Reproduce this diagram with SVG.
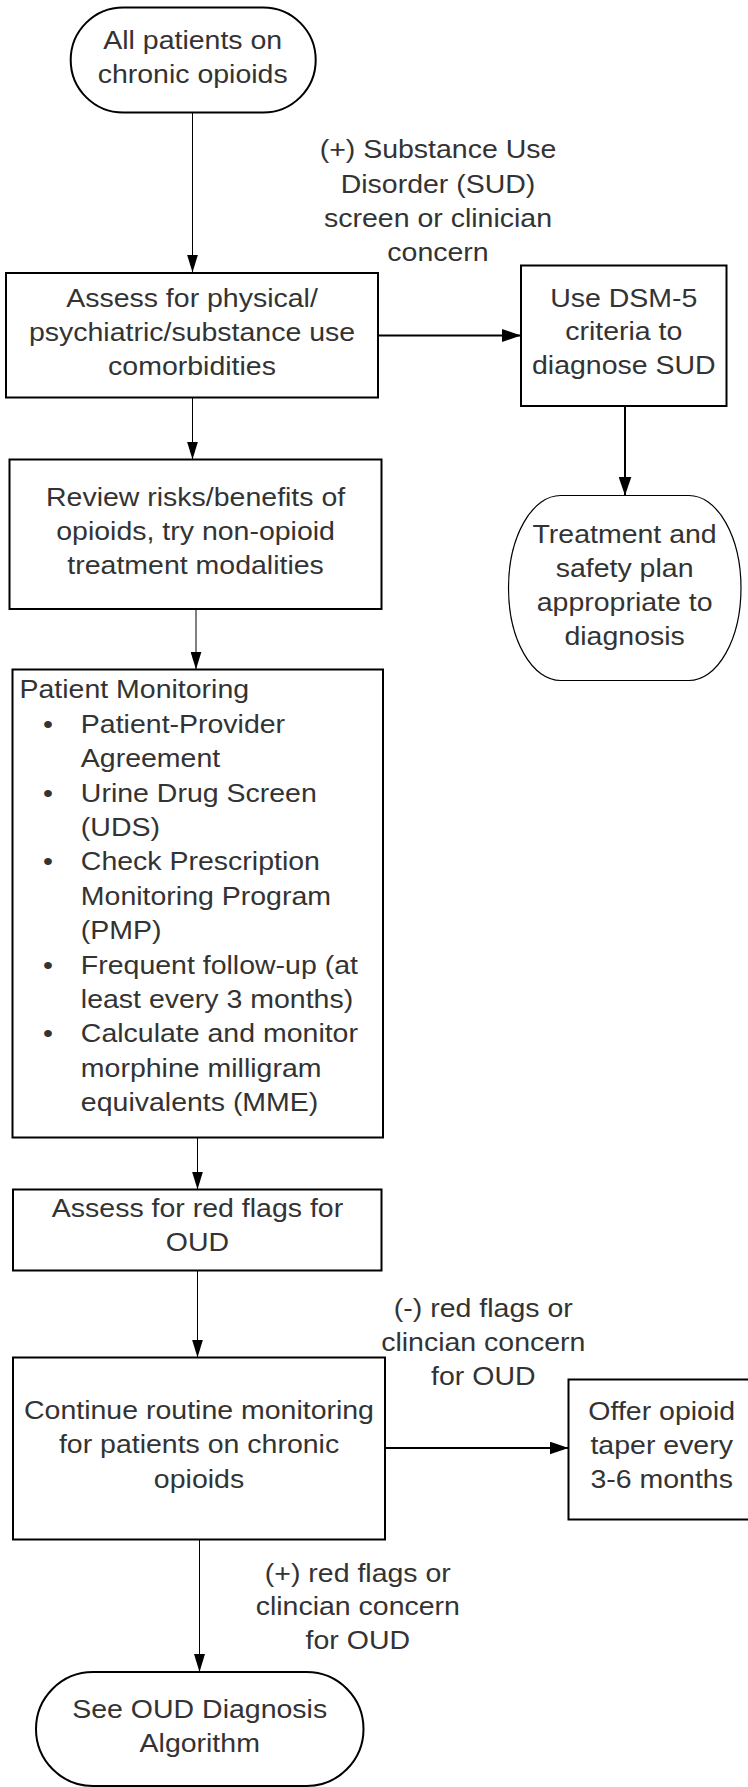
<svg xmlns="http://www.w3.org/2000/svg" width="748" height="1787" viewBox="0 0 748 1787">
<style>
.nd{fill:#fff;stroke:#000;stroke-width:2}
.thin{fill:#fff;stroke:#000;stroke-width:1.2}
.t{font-family:"Liberation Sans",Arial,sans-serif;font-size:26px;fill:#333;text-anchor:middle}
.tl{font-family:"Liberation Sans",Arial,sans-serif;font-size:26px;fill:#333;text-anchor:start}
.c1{fill:none;stroke:#000;stroke-width:1}
.c2{fill:none;stroke:#000;stroke-width:2}
</style>
<defs>
<marker id="a1" markerUnits="userSpaceOnUse" markerWidth="18" markerHeight="11" refX="18" refY="5.5" orient="auto"><path d="M0,0 L18,5.5 L0,11 z" fill="#000"/></marker>
<marker id="a2" markerUnits="userSpaceOnUse" markerWidth="19" markerHeight="13" refX="19" refY="6.5" orient="auto"><path d="M0,0 L19,6.5 L0,13 z" fill="#000"/></marker>
</defs>
<rect width="748" height="1787" fill="#fff"/>
<g id="connectors">
<line class="c1" x1="192.5" y1="113" x2="192.5" y2="272.5" marker-end="url(#a1)"/>
<line class="c2" x1="378" y1="335.5" x2="521" y2="335.5" marker-end="url(#a2)"/>
<line class="c2" x1="625" y1="406" x2="625" y2="495.5" marker-end="url(#a2)"/>
<line class="c1" x1="192.5" y1="397.5" x2="192.5" y2="459.5" marker-end="url(#a1)"/>
<line class="c1" x1="196" y1="609" x2="196" y2="669.5" marker-end="url(#a1)"/>
<line class="c1" x1="197.5" y1="1138" x2="197.5" y2="1189.5" marker-end="url(#a1)"/>
<line class="c1" x1="197.5" y1="1270.5" x2="197.5" y2="1357.5" marker-end="url(#a1)"/>
<line class="c2" x1="385" y1="1448" x2="568.5" y2="1448" marker-end="url(#a2)"/>
<line class="c1" x1="199.5" y1="1539.5" x2="199.5" y2="1672" marker-end="url(#a1)"/>
</g>
<g id="labels">
<text class="t" transform="matrix(1.096 0 0 1 438 0)"><tspan x="0" y="158.5">(+) Substance Use</tspan><tspan x="0" y="192.8">Disorder (SUD)</tspan><tspan x="0" y="227">screen or clinician</tspan><tspan x="0" y="261.3">concern</tspan></text>
<text class="t" transform="matrix(1.096 0 0 1 483.3 0)"><tspan x="0" y="1316.7">(-) red flags or</tspan><tspan x="0" y="1350.7">clincian concern</tspan><tspan x="0" y="1384.7">for OUD</tspan></text>
<text class="t" transform="matrix(1.096 0 0 1 357.8 0)"><tspan x="0" y="1581.7">(+) red flags or</tspan><tspan x="0" y="1615.5">clincian concern</tspan><tspan x="0" y="1649.3">for OUD</tspan></text>
</g>
<g id="start">
<rect class="nd" x="70.7" y="7.5" width="245" height="105" rx="52.5" ry="52.5"/>
<text class="t" transform="matrix(1.096 0 0 1 192.7 0)"><tspan x="0" y="49.3">All patients on</tspan><tspan x="0" y="83.5">chronic opioids</tspan></text>
</g>
<g id="assess">
<rect class="nd" x="6" y="273" width="372" height="124.5"/>
<text class="t" transform="matrix(1.096 0 0 1 192 0)"><tspan x="0" y="306.7">Assess for physical/</tspan><tspan x="0" y="341">psychiatric/substance use</tspan><tspan x="0" y="375.3">comorbidities</tspan></text>
</g>
<g id="dsm">
<rect class="nd" x="521" y="265.5" width="205.5" height="140.5"/>
<text class="t" transform="matrix(1.096 0 0 1 623.8 0)"><tspan x="0" y="306.7">Use DSM-5</tspan><tspan x="0" y="340.5">criteria to</tspan><tspan x="0" y="374.5">diagnose SUD</tspan></text>
</g>
<g id="treatment">
<rect class="thin" x="508.5" y="495.5" width="232.5" height="185" rx="52" ry="92.5"/>
<text class="t" transform="matrix(1.096 0 0 1 624.6 0)"><tspan x="0" y="542.7">Treatment and</tspan><tspan x="0" y="576.9">safety plan</tspan><tspan x="0" y="611.1">appropriate to</tspan><tspan x="0" y="645.3">diagnosis</tspan></text>
</g>
<g id="review">
<rect class="nd" x="9.5" y="459.5" width="372" height="149.5"/>
<text class="t" transform="matrix(1.096 0 0 1 195.6 0)"><tspan x="0" y="506">Review risks/benefits of</tspan><tspan x="0" y="540">opioids, try non-opioid</tspan><tspan x="0" y="574">treatment modalities</tspan></text>
</g>
<g id="monitoring">
<rect class="nd" x="12.5" y="669.5" width="370.5" height="468"/>
<text class="tl" transform="matrix(1.096 0 0 1 19.5 0)">
<tspan x="0" y="698.4">Patient Monitoring</tspan>
<tspan x="21.5" y="732.8">•</tspan><tspan x="56" y="732.8">Patient-Provider</tspan>
<tspan x="56" y="767.2">Agreement</tspan>
<tspan x="21.5" y="801.6">•</tspan><tspan x="56" y="801.6">Urine Drug Screen</tspan>
<tspan x="56" y="836">(UDS)</tspan>
<tspan x="21.5" y="870.4">•</tspan><tspan x="56" y="870.4">Check Prescription</tspan>
<tspan x="56" y="904.8">Monitoring Program</tspan>
<tspan x="56" y="939.2">(PMP)</tspan>
<tspan x="21.5" y="973.6">•</tspan><tspan x="56" y="973.6">Frequent follow-up (at</tspan>
<tspan x="56" y="1008">least every 3 months)</tspan>
<tspan x="21.5" y="1042.4">•</tspan><tspan x="56" y="1042.4">Calculate and monitor</tspan>
<tspan x="56" y="1076.8">morphine milligram</tspan>
<tspan x="56" y="1111.2">equivalents (MME)</tspan>
</text>
</g>
<g id="redflags">
<rect class="nd" x="13" y="1189.5" width="368.5" height="81"/>
<text class="t" transform="matrix(1.096 0 0 1 197.5 0)"><tspan x="0" y="1216.7">Assess for red flags for</tspan><tspan x="0" y="1251">OUD</tspan></text>
</g>
<g id="continue">
<rect class="nd" x="13" y="1357.5" width="372" height="182"/>
<text class="t" transform="matrix(1.096 0 0 1 199 0)"><tspan x="0" y="1419.3">Continue routine monitoring</tspan><tspan x="0" y="1453.5">for patients on chronic</tspan><tspan x="0" y="1487.7">opioids</tspan></text>
</g>
<g id="offer">
<rect class="nd" x="568.5" y="1379.5" width="182" height="140"/>
<text class="t" transform="matrix(1.096 0 0 1 661.7 0)"><tspan x="0" y="1420">Offer opioid</tspan><tspan x="0" y="1454">taper every</tspan><tspan x="0" y="1488.3">3-6 months</tspan></text>
</g>
<g id="seeoud">
<rect class="nd" x="36" y="1672" width="327.5" height="114" rx="57" ry="57"/>
<text class="t" transform="matrix(1.096 0 0 1 199.7 0)"><tspan x="0" y="1718.3">See OUD Diagnosis</tspan><tspan x="0" y="1752.5">Algorithm</tspan></text>
</g>
</svg>
